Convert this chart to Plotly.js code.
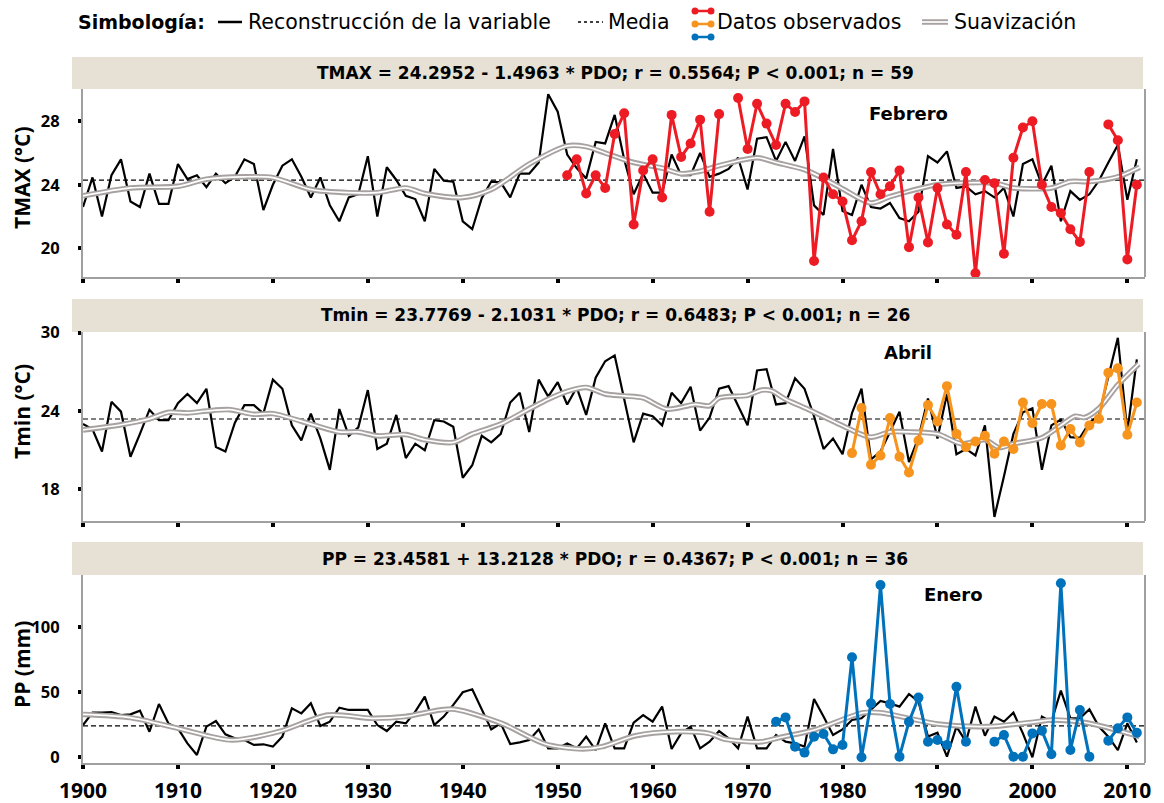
<!DOCTYPE html>
<html><head><meta charset="utf-8">
<script src="https://cdn.plot.ly/plotly-3.0.1.min.js"></script>
<style>html,body{margin:0;padding:0;background:#fff}#chart{width:1164px;height:803px}</style>
</head><body><div id="chart"></div>
<script>
// ---------------- DATA ----------------
const startYear = 1900;
const xTickVals = [1900,1910,1920,1930,1940,1950,1960,1970,1980,1990,2000,2010];

const tmaxRecon = [22.6,24.46,22.0,24.6,25.6,22.95,22.6,24.7,22.8,22.8,
25.3,24.36,24.6,23.85,24.7,24.1,24.5,25.6,25.3,22.4,
24.0,25.2,25.6,24.5,23.2,24.46,22.7,21.7,23.2,23.4,
25.8,22.0,25.1,24.3,23.3,23.1,21.7,25.0,24.25,24.2,
21.7,21.2,23.15,24.2,24.15,23.2,24.7,24.7,25.4,29.7,
28.6,25.9,25.05,24.4,26.7,26.6,28.4,25.6,23.4,24.7,
23.5,23.5,25.9,24.6,24.6,26.0,24.5,24.7,25.0,25.7,
23.7,26.9,27.0,25.5,26.7,25.5,27.05,22.7,22.1,26.25,
22.35,22.1,24.0,22.6,22.5,22.85,21.9,21.7,22.3,25.8,
25.4,26.1,23.8,23.9,23.4,23.6,23.2,23.8,22.0,25.3,
25.6,24.0,25.2,21.7,23.6,23.05,23.4,24.25,25.4,26.5,
23.05,25.6];
const tmaxObsStart = 1951;
const tmaxObs = [24.6,25.6,23.45,24.6,23.8,27.2,28.5,21.5,24.9,
25.6,23.2,28.4,25.75,26.6,28.1,22.3,28.45,null,29.46,
26.25,29.1,27.85,26.5,29.1,28.58,29.25,19.2,24.46,23.4,
22.95,20.5,21.7,24.8,23.4,23.9,24.9,20.07,23.2,20.37,
23.8,21.5,20.85,24.8,18.43,24.3,24.1,19.65,25.7,27.6,
28.0,24.0,22.6,22.2,21.2,20.4,24.8,null,27.8,26.8,
19.3,24.0];
const tmaxSmoothX = [1900,1905,1910,1913,1917,1920,1924,1928,1931,1934,1936,1940,1943,1947,1951,1953,1955,1958,1961,1963,1965,1967,1971,1973,1976,1978,1980,1983,1985,1990,1996,1998,2002,2004,2006,2009,2011.3];
const tmaxSmoothY = [23.3,23.8,23.9,24.35,24.5,24.45,23.7,23.5,23.5,23.8,23.45,23.2,23.7,25.3,26.45,26.4,26.0,25.4,25.05,24.7,24.85,25.2,25.7,25.4,24.95,24.4,23.75,22.85,23.25,24.0,24.1,23.8,23.8,24.2,24.2,24.5,25.1];
const tmaxMean = 24.2952;

const tminRecon = [23.0,22.6,20.9,24.7,23.95,20.5,22.25,24.1,23.3,23.3,
24.6,25.3,24.6,25.7,21.25,20.9,23.1,24.45,24.45,23.8,
26.4,25.7,22.9,21.75,23.8,21.9,19.5,24.15,22.1,22.75,
25.6,21.1,21.5,23.7,20.4,21.5,21.0,23.3,23.2,22.8,
18.9,19.85,22.1,21.6,22.25,24.65,25.4,22.4,26.4,25.1,
26.2,24.5,25.8,23.7,26.55,27.8,28.25,25.0,21.6,23.8,
23.6,22.9,25.4,24.6,25.85,22.5,23.5,25.7,25.9,24.4,
22.9,27.1,27.2,24.5,24.6,26.5,25.7,23.6,21.1,21.9,
20.7,23.85,25.7,20.3,20.9,22.4,23.95,20.1,21.95,24.95,
21.9,25.3,20.7,21.1,20.6,22.9,15.9,19.0,22.25,23.9,
24.2,19.5,22.9,23.35,22.0,21.95,23.1,23.65,26.6,29.6,
22.4,27.95];
const tminObsStart = 1981;
const tminObs = [20.78,24.23,19.9,20.6,23.47,20.5,19.3,21.74,24.45,
23.2,25.9,22.25,21.24,21.67,22.1,20.73,21.67,21.1,24.65,
23.06,24.53,24.53,21.37,22.63,21.6,22.9,23.4,26.93,27.26,
22.18,24.65];
const tminSmoothX = [1900,1904,1907,1909,1911,1913,1915.5,1918,1920,1924,1927,1929,1931,1934,1936,1939,1941,1944,1947,1949,1951,1953,1955,1957,1959,1961.5,1964.5,1966,1967,1970,1971.5,1972.5,1974,1976.3,1980.5,1983,1985,1987,1990,1992.5,1995,1996.5,1998,2001,2003,2004.5,2005.5,2007,2009,2011.2];
const tminSmoothY = [22.55,22.95,23.4,23.9,23.85,24.0,24.1,23.75,23.8,23.0,22.4,22.4,22.1,22.2,21.8,21.6,22.25,23.0,24.15,24.9,25.5,25.8,25.3,25.15,25.0,24.15,24.5,24.4,25.0,25.2,25.6,25.55,24.9,24.15,22.7,22.0,22.4,22.4,22.25,21.5,21.8,21.2,21.5,21.95,22.9,23.6,23.5,24.2,26.0,27.6];
const tminMean = 23.39;

const ppRecon = [24.8,34.3,34.3,34.8,32.5,33.0,35.9,19.7,41.0,26.1,
22.3,10.7,1.8,23.6,27.9,17.7,14.6,13.3,9.5,10.0,
8.2,15.9,37.7,33.8,41.5,24.1,27.4,38.2,36.4,36.4,
36.4,24.8,20.2,27.4,26.1,35.1,46.7,24.8,31.3,40.3,
50.0,52.3,36.4,21.5,26.1,10.2,11.5,13.3,21.5,6.9,
6.9,10.7,6.9,15.9,5.6,26.1,6.9,6.9,26.6,32.5,
27.4,39.0,6.4,18.4,23.6,6.9,12.0,20.2,14.6,6.9,
31.3,6.9,6.9,17.2,12.0,10.7,8.2,44.8,31.3,17.2,
21.5,28.7,30.0,36.4,43.3,41.5,39.0,48.7,42.8,15.9,
18.9,0.5,23.6,12.0,39.0,16.6,31.3,27.4,34.3,18.4,
0.0,31.3,27.4,51.3,30.0,30.0,36.9,23.6,15.9,5.6,
26.1,11.3];
const ppObsStart = 1973;
const ppObs = [27.4,30.7,8.2,3.6,15.9,17.9,6.1,9.5,76.9,0.0,
41.5,132.5,41.0,0.5,27.4,45.9,12.0,13.3,9.5,54.3,
12.0,null,null,12.0,17.2,0.5,0.5,18.4,20.5,2.3,
133.8,5.6,36.4,0.5,null,12.8,22.3,30.7,18.9];
const ppSmoothX = [1900,1905,1910,1915.7,1920.6,1925.8,1930.4,1933.9,1937.6,1939.2,1944.1,1948.7,1952.6,1954.7,1958.2,1962.4,1965.9,1967.7,1971.5,1973.5,1977,1982.2,1984,1990,1995.3,2000.5,2002,2005.7,2011.3];
const ppSmoothY = [33,30.5,22.3,13.3,19.7,32.5,30,31.3,36.4,36.9,26.1,10.2,6.4,8.2,16.6,19.7,18.4,13.8,12.0,15.4,21,34.3,34.3,25.6,23.6,27.4,28.7,26.6,15.9];
const ppMean = 24.1;

const panelTitles = [
  "TMAX = 24.2952 - 1.4963 * PDO; r = 0.5564; P < 0.001; n = 59",
  "Tmin = 23.7769 - 2.1031 * PDO; r = 0.6483; P < 0.001; n = 26",
  "PP = 23.4581 + 13.2128 * PDO; r = 0.4367; P < 0.001; n = 36"
];
const monthLabels = ["Febrero","Abril","Enero"];
const yTitles = ["TMAX (°C)","Tmin (°C)","PP (mm)"];
const yTickVals = [[20,24,28],[18,24,30],[0,50,100]];
const legendLabels = ["Simbología:","Reconstrucción de la variable","Media","Datos observados","Suavización"];

// ---------------- BUILD ----------------
const W = 1164, H = 803;
const FONT = "'DejaVu Sans', sans-serif";
const TICKFONT = "'Open Sans', sans-serif";
const px = X => X / W;
const py = Y => 1 - Y / H;
const yearsFrom = (s, n) => Array.from({length:n}, (_, i) => s + i);

const X0 = 83, X1 = 1145;
const xRange = [1900, 2011.86];
const panels = [
  {recon: tmaxRecon, obs: tmaxObs, obsStart: tmaxObsStart, sx: tmaxSmoothX, sy: tmaxSmoothY, mean: tmaxMean,
   color: '#ed1c24', top: 89, bottom: 277, range: [18.19, 30.03], strip: [57, 89], titleY: 73, monthX: 908, monthY: 113, yTitleY: 178},
  {recon: tminRecon, obs: tminObs, obsStart: tminObsStart, sx: tminSmoothX, sy: tminSmoothY, mean: tminMean,
   color: '#f7941d', top: 332, bottom: 521, range: [15.59, 30.04], strip: [299, 332], titleY: 315, monthX: 908, monthY: 352, yTitleY: 412},
  {recon: ppRecon, obs: ppObs, obsStart: ppObsStart, sx: ppSmoothX, sy: ppSmoothY, mean: ppMean,
   color: '#0072bc', top: 575, bottom: 763, range: [-4.38, 140.2], strip: [542, 575], titleY: 559, monthX: 953, monthY: 594, yTitleY: 665}
];

const traces = [];
const layout = {
  width: W, height: H, margin: {l:0, r:0, t:0, b:0},
  paper_bgcolor: '#fff', plot_bgcolor: '#fff', showlegend: false,
  font: {family: FONT, color: '#000'},
  shapes: [], annotations: []
};

panels.forEach((p, i) => {
  const k = i === 0 ? '' : String(i + 1);
  const xa = 'x' + k, ya = 'y' + k;
  const yrs = yearsFrom(startYear, p.recon.length);
  traces.push({x: xRange, y: [p.mean, p.mean], xaxis: xa, yaxis: ya, mode: 'lines',
    line: {color: '#000', width: 1.2, dash: '5px,3px'}, hoverinfo: 'skip'});
  traces.push({x: yrs, y: p.recon, xaxis: xa, yaxis: ya, mode: 'lines',
    line: {color: '#000', width: 2.2}});
  traces.push({x: p.sx, y: p.sy, xaxis: xa, yaxis: ya, mode: 'lines',
    line: {color: '#a8a1a1', width: 5.5, shape: 'spline', smoothing: 0.8}});
  traces.push({x: p.sx, y: p.sy, xaxis: xa, yaxis: ya, mode: 'lines',
    line: {color: '#ffffff', width: 1.7, shape: 'spline', smoothing: 0.8}});
  traces.push({x: yearsFrom(p.obsStart, p.obs.length), y: p.obs, xaxis: xa, yaxis: ya, mode: 'lines+markers',
    line: {color: p.color, width: 3}, marker: {color: p.color, size: 10}});

  const dom = [py(p.bottom), py(p.top)];
  layout['xaxis' + k] = {
    domain: [px(X0), px(X1)], range: xRange, anchor: ya,
    tickmode: 'array', tickvals: xTickVals, ticktext: xTickVals.map(String),
    ticks: 'outside', ticklen: 4, tickwidth: 4, tickcolor: '#000',
    showline: true, linecolor: '#a0a0a0', linewidth: 2,
    showgrid: false, zeroline: false, showticklabels: i === 2,
    tickfont: {family: TICKFONT, size: 21, color: '#000', weight: 700},
    ticklabelstandoff: 4
  };
  layout['yaxis' + k] = {
    domain: dom, range: p.range, anchor: xa,
    tickmode: 'array', tickvals: yTickVals[i], ticktext: yTickVals[i].map(String),
    ticks: 'outside', ticklen: 3, tickwidth: 4, tickcolor: '#000',
    showline: true, linecolor: '#a0a0a0', linewidth: 2,
    showgrid: false, zeroline: false,
    tickfont: {family: TICKFONT, size: 16.5, color: '#000', weight: 700},
    ticklabelstandoff: 15
  };
  // title strip
  layout.shapes.push({type: 'rect', xref: 'paper', yref: 'paper',
    x0: px(72), x1: px(1143), y0: py(p.strip[1]), y1: py(p.strip[0]),
    fillcolor: '#e6e1d4', line: {width: 0}, layer: 'below'});
  // right frame line
  layout.shapes.push({type: 'line', xref: 'paper', yref: 'paper',
    x0: px(X1), x1: px(X1), y0: py(p.bottom), y1: py(p.top),
    line: {color: '#a0a0a0', width: 2}});
  layout.annotations.push({text: '<b>' + panelTitles[i] + '</b>', xref: 'paper', yref: 'paper',
    x: px(615), y: py(p.titleY), xanchor: 'center', yanchor: 'middle', showarrow: false,
    font: {family: FONT, size: 17, color: '#000'}});
  layout.annotations.push({text: '<b>' + monthLabels[i] + '</b>', xref: 'paper', yref: 'paper',
    x: px(p.monthX), y: py(p.monthY), xanchor: 'center', yanchor: 'middle', showarrow: false,
    font: {family: FONT, size: 18, color: '#000'}});
  layout.annotations.push({text: '<b>' + yTitles[i] + '</b>', xref: 'paper', yref: 'paper',
    x: px(22), y: py(p.yTitleY), xanchor: 'center', yanchor: 'middle', textangle: -90, showarrow: false,
    font: {family: TICKFONT, size: 21, color: '#000'}});
});

// ---------------- LEGEND (header) ----------------
const LY = 22;
const legText = (t, X, bold) => layout.annotations.push({text: bold ? '<b>' + t + '</b>' : t,
  xref: 'paper', yref: 'paper', x: px(X), y: py(LY), xanchor: 'left', yanchor: 'middle', showarrow: false,
  font: {family: FONT, size: bold ? 19 : 20.5, color: '#000'}});
const legLine = (xa, xb, y, color, width, dash) => layout.shapes.push({type: 'line', xref: 'paper', yref: 'paper',
  x0: px(xa), x1: px(xb), y0: py(y), y1: py(y), line: {color: color, width: width, dash: dash || 'solid'}});
const legDot = (x, y, color) => layout.shapes.push({type: 'circle', xref: 'paper', yref: 'paper',
  x0: px(x - 3.5), x1: px(x + 3.5), y0: py(y + 3.5), y1: py(y - 3.5), fillcolor: color, line: {width: 0}});

legText(legendLabels[0], 76, true);
legLine(218, 242, LY, '#000', 2.5);
legText(legendLabels[1], 246, false);
legLine(578, 603, LY, '#000', 1.5, 'dot');
legText(legendLabels[2], 606, false);
[[11, '#ed1c24'], [24, '#f7941d'], [37, '#0072bc']].forEach(([yy, c]) => {
  legLine(695, 711, yy, c, 2.5); legDot(695, yy, c); legDot(711, yy, c);
});
legText(legendLabels[3], 715, false);
legLine(922, 948, LY, '#a8a1a1', 5.5);
legLine(922, 948, LY, '#ffffff', 1.7);
legText(legendLabels[4], 952, false);

Plotly.newPlot('chart', traces, layout, {staticPlot: true, displayModeBar: false});
</script>
</body></html>
